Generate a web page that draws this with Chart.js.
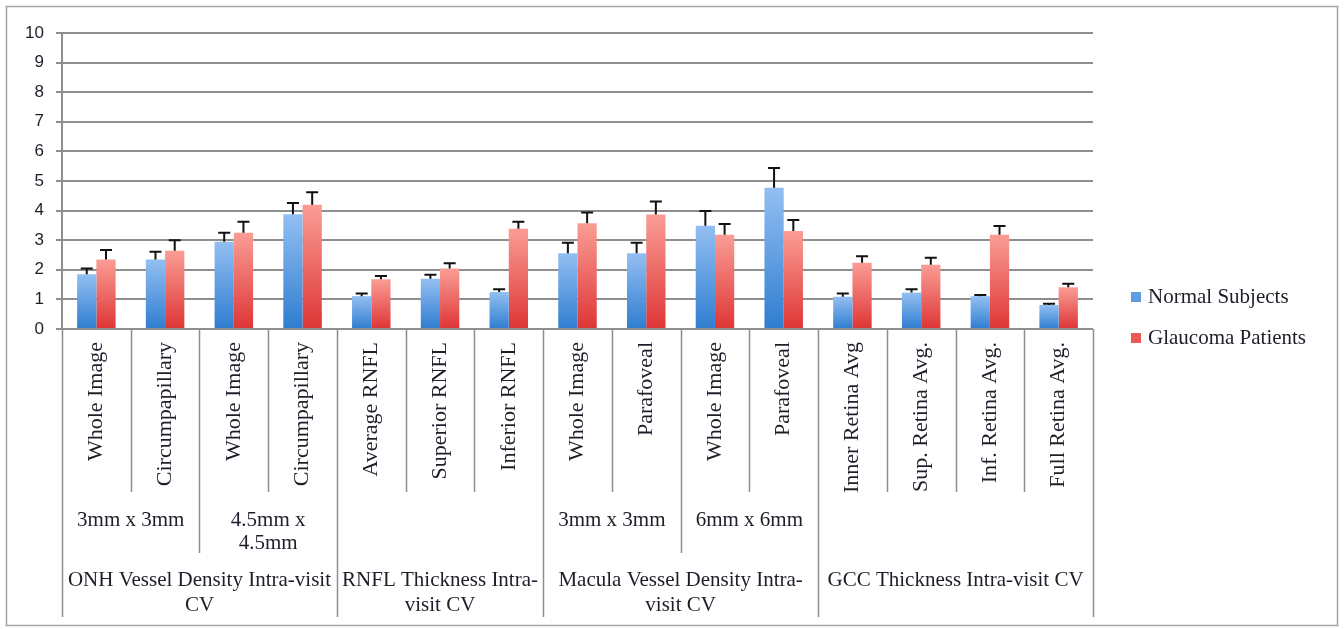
<!DOCTYPE html>
<html>
<head>
<meta charset="utf-8">
<script src="https://cdn.jsdelivr.net/npm/chart.js@4"></script>
<style>
  html, body { margin: 0; padding: 0; background: #ffffff; }
  #wrap { width: 1344px; height: 629px; position: relative; }
</style>
</head>
<body>
<div id="wrap"><canvas id="c" width="1344" height="629"></canvas></div>
<script>
// ---- Data ----
const categories = [
  "Whole Image", "Circumpapillary", "Whole Image", "Circumpapillary",
  "Average RNFL", "Superior RNFL", "Inferior RNFL",
  "Whole Image", "Parafoveal", "Whole Image", "Parafoveal",
  "Inner Retina Avg", "Sup. Retina Avg.", "Inf. Retina Avg.", "Full Retina Avg."
];
// second level groups: [first index, last index, text lines]
const level2Groups = [
  [0, 1, ["3mm x 3mm"]],
  [2, 3, ["4.5mm x", "4.5mm"]],
  [4, 6, []],
  [7, 8, ["3mm x 3mm"]],
  [9, 10, ["6mm x 6mm"]],
  [11, 14, []]
];
// third level groups
const level3Groups = [
  [0, 3, ["ONH Vessel Density Intra-visit", "CV"]],
  [4, 6, ["RNFL Thickness Intra-", "visit CV"]],
  [7, 10, ["Macula Vessel Density Intra-", "visit CV"]],
  [11, 14, ["GCC Thickness Intra-visit CV"]]
];
const seriesNames = ["Normal Subjects", "Glaucoma Patients"];
const normalValues   = [1.85, 2.35, 2.95, 3.88, 1.11, 1.70, 1.25, 2.56, 2.56, 3.49, 4.77, 1.09, 1.23, 1.11, 0.81];
const normalErrors   = [0.19, 0.26, 0.30, 0.38, 0.09, 0.13, 0.09, 0.35, 0.35, 0.50, 0.67, 0.11, 0.11, 0.04, 0.04];
const glaucomaValues = [2.35, 2.64, 3.25, 4.20, 1.68, 2.04, 3.39, 3.57, 3.87, 3.18, 3.31, 2.24, 2.17, 3.18, 1.41];
const glaucomaErrors = [0.32, 0.36, 0.37, 0.42, 0.11, 0.18, 0.23, 0.37, 0.44, 0.37, 0.37, 0.22, 0.24, 0.30, 0.12];
const yMin = 0, yMax = 10, yStep = 1;

// ---- Styles ----
const TEXT = '#1e1e2a';
const LINE = '#8e8e8e';
const SERIF = '"Liberation Serif", "Times New Roman", serif';
const palettes = [
  { top: '#93bff2', bottom: '#2f7dd0', key: '#5f9de3' },
  { top: '#fa9d95', bottom: '#de3535', key: '#ec5a55' }
];

function barFill(ctx, p) {
  const chart = ctx.chart;
  const ys = chart.scales && chart.scales.y;
  if (!chart.chartArea || !ys || ctx.raw == null) return p.key;
  const t = ys.getPixelForValue(ctx.raw);
  const b = ys.getPixelForValue(0);
  const g = chart.ctx.createLinearGradient(0, t, 0, b);
  g.addColorStop(0, p.top);
  g.addColorStop(1, p.bottom);
  return g;
}

const errorBars = {
  id: 'errorBars',
  afterDatasetsDraw(chart) {
    const c = chart.ctx, ys = chart.scales.y;
    c.save();
    c.strokeStyle = '#111';
    c.lineWidth = 2;
    chart.data.datasets.forEach((ds, d) => {
      const meta = chart.getDatasetMeta(d);
      meta.data.forEach((bar, i) => {
        const v = ds.data[i], e = ds.errors[i];
        const y0 = ys.getPixelForValue(v);
        const y1 = ys.getPixelForValue(v + e);
        c.beginPath();
        c.moveTo(bar.x, y0);
        c.lineTo(bar.x, y1);
        c.moveTo(bar.x - 6, y1);
        c.lineTo(bar.x + 6, y1);
        c.stroke();
      });
    });
    c.restore();
  }
};

const axisLabels = {
  id: 'axisLabels',
  afterDraw(chart) {
    const c = chart.ctx, xs = chart.scales.x, area = chart.chartArea;
    const n = categories.length;
    const w = (area.right - area.left) / n;
    const edge = i => area.left + i * w;
    const base = area.bottom;
    const y1 = 492, y2 = 553, y3 = 617;
    c.save();
    c.strokeStyle = LINE;
    c.lineWidth = 1.5;
    // separators
    for (let i = 0; i <= n; i++) {
      let bottom = y1;
      if (level3Groups.some(g => g[0] === i) || i === n) bottom = y3;
      else if (level2Groups.some(g => g[0] === i)) bottom = y2;
      const x = Math.round(edge(i)) + 0.5;
      c.beginPath();
      c.moveTo(x, base);
      c.lineTo(x, bottom);
      c.stroke();
    }
    c.fillStyle = TEXT;
    // level 1 rotated
    c.font = '22px ' + SERIF;
    c.textAlign = 'right';
    c.textBaseline = 'middle';
    categories.forEach((lab, i) => {
      const x = xs.getPixelForValue(i);
      c.save();
      c.translate(x, 342);
      c.rotate(-Math.PI / 2);
      c.fillText(lab, 0, 0);
      c.restore();
    });
    // level 2
    c.font = '21px ' + SERIF;
    c.textAlign = 'center';
    level2Groups.forEach(g => {
      const cx = (edge(g[0]) + edge(g[1] + 1)) / 2;
      g[2].forEach((t, k) => c.fillText(t, cx, 520 + k * 23));
    });
    // level 3
    level3Groups.forEach(g => {
      const cx = (edge(g[0]) + edge(g[1] + 1)) / 2;
      g[2].forEach((t, k) => c.fillText(t, cx, 580 + k * 25));
    });
    // legend
    c.textAlign = 'left';
    chart.data.datasets.forEach((ds, d) => {
      const ly = 297 + d * 41;
      c.fillStyle = palettes[d].key;
      c.fillRect(1131, ly - 5, 10, 10);
      c.fillStyle = TEXT;
      c.fillText(ds.label, 1148, ly);
    });
    // outer frame
    c.strokeStyle = '#a4a4a4';
    c.lineWidth = 1.5;
    c.strokeRect(6.5, 6.5, 1331, 619);
    c.restore();
  }
};

new Chart(document.getElementById('c'), {
  type: 'bar',
  data: {
    labels: categories,
    datasets: [
      { label: seriesNames[0], data: normalValues, errors: normalErrors,
        backgroundColor: ctx => barFill(ctx, palettes[0]) },
      { label: seriesNames[1], data: glaucomaValues, errors: glaucomaErrors,
        backgroundColor: ctx => barFill(ctx, palettes[1]) }
    ]
  },
  options: {
    responsive: false,
    animation: false,
    devicePixelRatio: 1,
    layout: { padding: { top: 33, right: 251, left: 0, bottom: 0 } },
    datasets: { bar: { categoryPercentage: 0.56, barPercentage: 1.0 } },
    plugins: { legend: { display: false }, tooltip: { enabled: false } },
    scales: {
      x: {
        ticks: { display: false },
        grid: { display: false },
        border: { display: false },
        afterFit(s) { s.height = 300; }
      },
      y: {
        min: yMin, max: yMax,
        ticks: { stepSize: yStep, color: TEXT, padding: 12,
                 font: { family: '"Liberation Sans", Arial, sans-serif', size: 17 } },
        grid: { color: LINE, lineWidth: 2, tickLength: 6 },
        border: { color: LINE, width: 2 },
        afterFit(s) { s.width = 62; }
      }
    }
  },
  plugins: [errorBars, axisLabels]
});
</script>
</body>
</html>
